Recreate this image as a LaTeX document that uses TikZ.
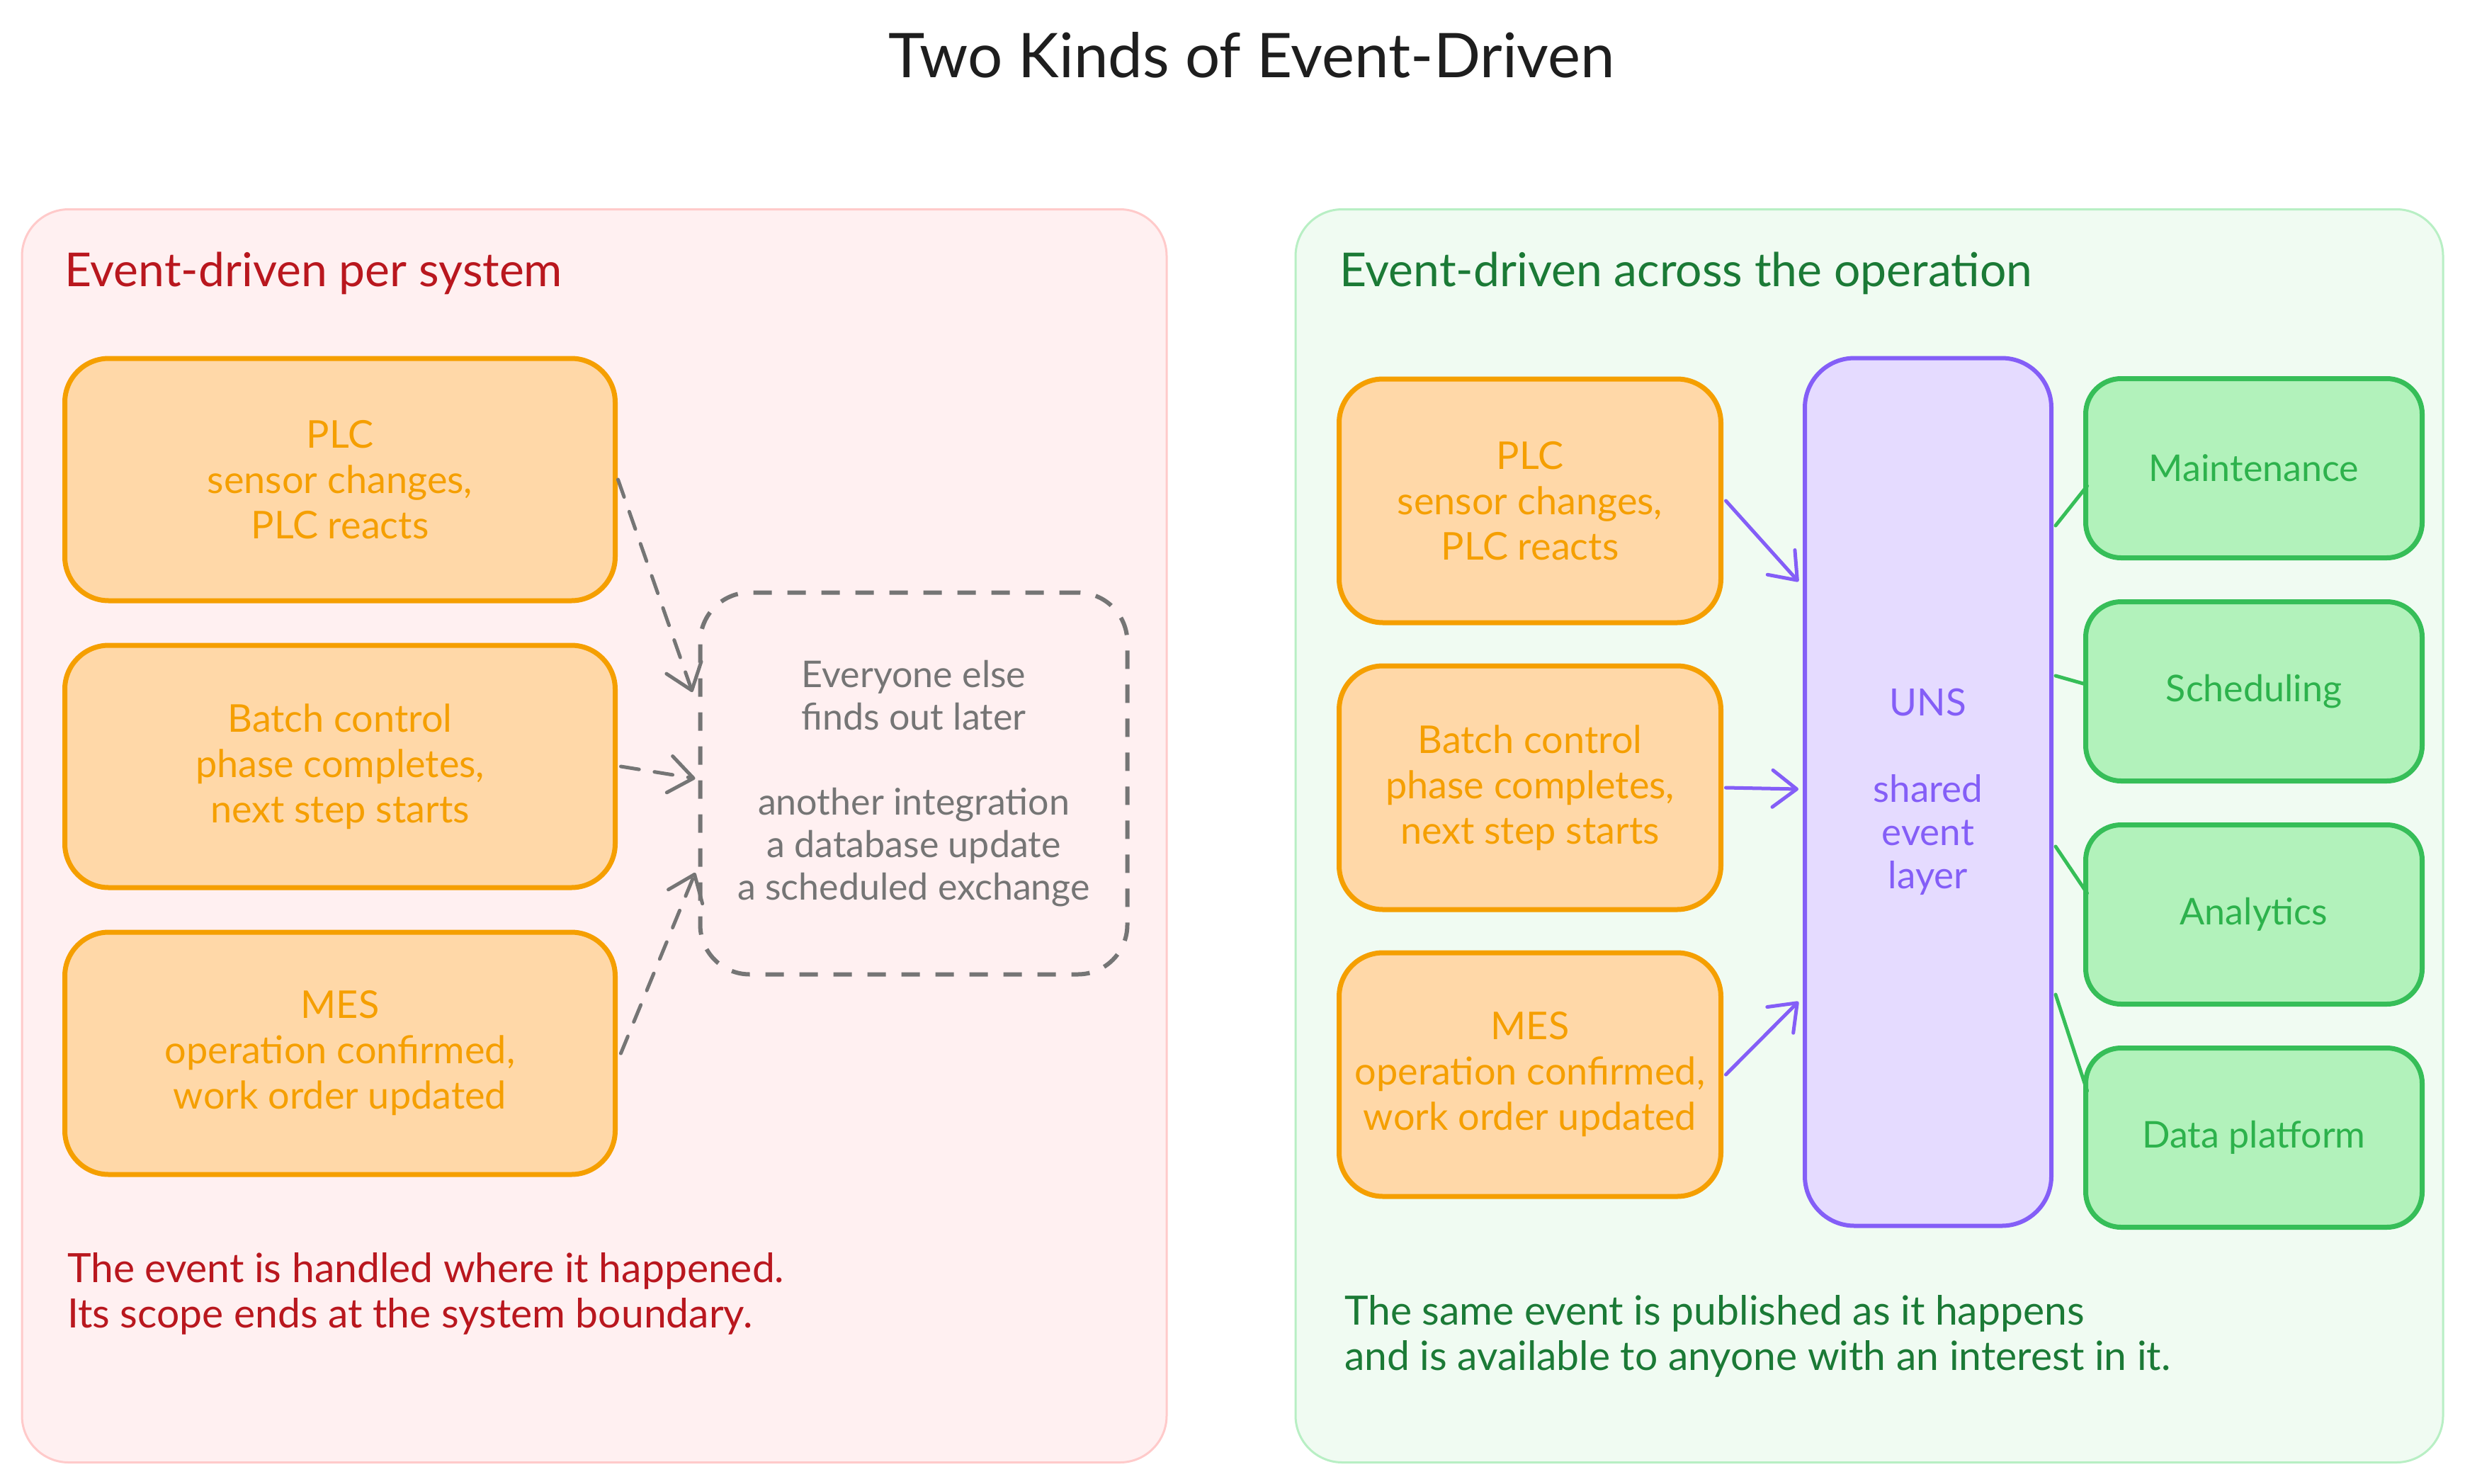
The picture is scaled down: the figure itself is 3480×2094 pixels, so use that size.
\documentclass[tikz,border=0pt]{standalone}
\usepackage{fontspec}
\setmainfont{Lato}
\usetikzlibrary{arrows.meta}
\definecolor{orangeS}{HTML}{F59F00}
\definecolor{orangeF}{HTML}{FFD8A8}
\definecolor{violetS}{HTML}{845EF7}
\definecolor{violetF}{HTML}{E5DBFF}
\definecolor{greenS}{HTML}{36BE58}
\definecolor{greenF}{HTML}{B2F2BB}
\definecolor{greenT}{HTML}{2DB24C}
\definecolor{grayS}{HTML}{757575}
\definecolor{pinkF}{HTML}{FFF0F1}
\definecolor{pinkS}{HTML}{FFCACA}
\definecolor{mintF}{HTML}{F0FBF2}
\definecolor{mintS}{HTML}{B8EFC4}
\definecolor{redT}{HTML}{B9171E}
\definecolor{greenD}{HTML}{1B7A36}
\definecolor{titleC}{HTML}{1E1E1E}
\begin{document}
\begin{tikzpicture}[x=1pt,y=-1pt,
  every node/.style={inner sep=0pt,outer sep=0pt},
  txt/.style={font=\fontsize{54}{64}\selectfont,align=center},
  panel/.style={draw,line width=3pt,rounded corners=66pt},
  srcbox/.style={draw=orangeS,fill=orangeF,line width=7pt,rounded corners=62pt,
    text=orangeS,txt,minimum width=777pt,minimum height=342pt},
  srcboxR/.style={srcbox,minimum width=539pt,minimum height=344pt},
  unsbox/.style={draw=violetS,fill=violetF,line width=6pt,rounded corners=70pt,
    text=violetS,align=center,font=\fontsize{53}{61}\selectfont,
    minimum width=348pt,minimum height=1225pt},
  consbox/.style={draw=greenS,fill=greenF,line width=7pt,rounded corners=50pt,
    text=greenT,align=center,font=\fontsize{52}{62}\selectfont,
    minimum width=475pt,minimum height=253pt},
  dashbox/.style={draw=grayS,line width=6pt,dash pattern=on 26pt off 22pt,
    rounded corners=70pt,text=grayS,align=center,font=\fontsize{52}{60}\selectfont,
    minimum width=603pt,minimum height=539pt},
  dasharrow/.style={draw=grayS,line width=5pt,dash pattern=on 26pt off 22pt,
    line cap=round,-{Straight Barb[length=34pt,width=52pt,line cap=round,line join=round]}},
  vioarrow/.style={draw=violetS,line width=5pt,line cap=round,
    -{Straight Barb[length=34pt,width=52pt,line cap=round,line join=round]}},
  greenline/.style={draw=greenS,line width=5pt,line cap=round},
  ptitle/.style={anchor=west,font=\fontsize{66}{78}\selectfont},
  caption/.style={anchor=west,align=left,font=\fontsize{57}{64}\selectfont}
]
\fill[white] (0,0) rectangle (3480,2094);
\useasboundingbox (0,0) rectangle (3480,2094);

% title
\node[font=\fontsize{87}{100}\selectfont,text=titleC] (title) at (1767,78) {Two Kinds of Event-Driven};

% panels
\node[panel,draw=pinkS,fill=pinkF,minimum width=1616pt,minimum height=1769pt] (pL) at (839,1180) {};
\node[panel,draw=mintS,fill=mintF,minimum width=1620pt,minimum height=1769pt] (pR) at (2639,1180) {};

\node[ptitle,text=redT] (tL) at (91,386) {Event-driven per system};
\node[ptitle,text=greenD] (tR) at (1891,386) {Event-driven across the operation};

% left side
\node[srcbox] (plcL) at (480,677) {PLC\\sensor changes,\\PLC reacts};
\node[srcbox] (batchL) at (480,1082) {Batch control\\phase completes,\\next step starts};
\node[srcbox] (mesL) at (480,1487) {MES\\operation confirmed,\\work order updated};
\node[dashbox] (dash) at (1290,1106) {Everyone else\\finds out later\\[60pt]another integration\\a database update\\a scheduled exchange};

\draw[dasharrow] ([xshift=4pt]plcL.east) -- ([xshift=-11pt,yshift=129pt]dash.west);
\draw[dasharrow] ([xshift=8pt]batchL.east) -- ([xshift=-7pt,yshift=7pt]dash.west);
\draw[dasharrow] ([xshift=8pt]mesL.east) -- ([xshift=-7pt,yshift=-126pt]dash.west);

\node[caption,text=redT] (capL) at (95,1826) {The event is handled where it happened.\\Its scope ends at the system boundary.};

% right side
\node[srcboxR] (plcR) at (2160,707) {PLC\\sensor changes,\\PLC reacts};
\node[srcboxR] (batchR) at (2160,1112) {Batch control\\phase completes,\\next step starts};
\node[srcboxR] (mesR) at (2160,1517) {MES\\operation confirmed,\\work order updated};
\node[unsbox] (uns) at (2722,1118) {UNS\\[61pt]shared\\event\\layer};

\node[consbox] (maint) at (3182,661) {Maintenance};
\node[consbox] (sched) at (3182,976) {Scheduling};
\node[consbox] (anal) at (3182,1291) {Analytics};
\node[consbox] (data) at (3182,1606) {Data platform};

\draw[vioarrow] ([xshift=7pt]plcR.east) -- ([xshift=-9pt,yshift=297pt]uns.west);
\draw[vioarrow] ([xshift=7pt]batchR.east) -- ([xshift=-9pt,yshift=4pt]uns.west);
\draw[vioarrow] ([xshift=7pt]mesR.east) -- ([xshift=-9pt,yshift=-296pt]uns.west);

\draw[greenline] ([xshift=6pt,yshift=376pt]uns.east) -- ([xshift=2pt,yshift=-25pt]maint.west);
\draw[greenline] ([xshift=6pt,yshift=164pt]uns.east) -- ([xshift=0pt,yshift=10pt]sched.west);
\draw[greenline] ([xshift=6pt,yshift=-77pt]uns.east) -- ([xshift=2pt,yshift=30pt]anal.west);
\draw[greenline] ([xshift=6pt,yshift=-286pt]uns.east) -- ([xshift=2pt,yshift=66pt]data.west);

\node[caption,text=greenD] (capR) at (1898,1886) {The same event is published as it happens\\and is available to anyone with an interest in it.};
\end{tikzpicture}
\end{document}
